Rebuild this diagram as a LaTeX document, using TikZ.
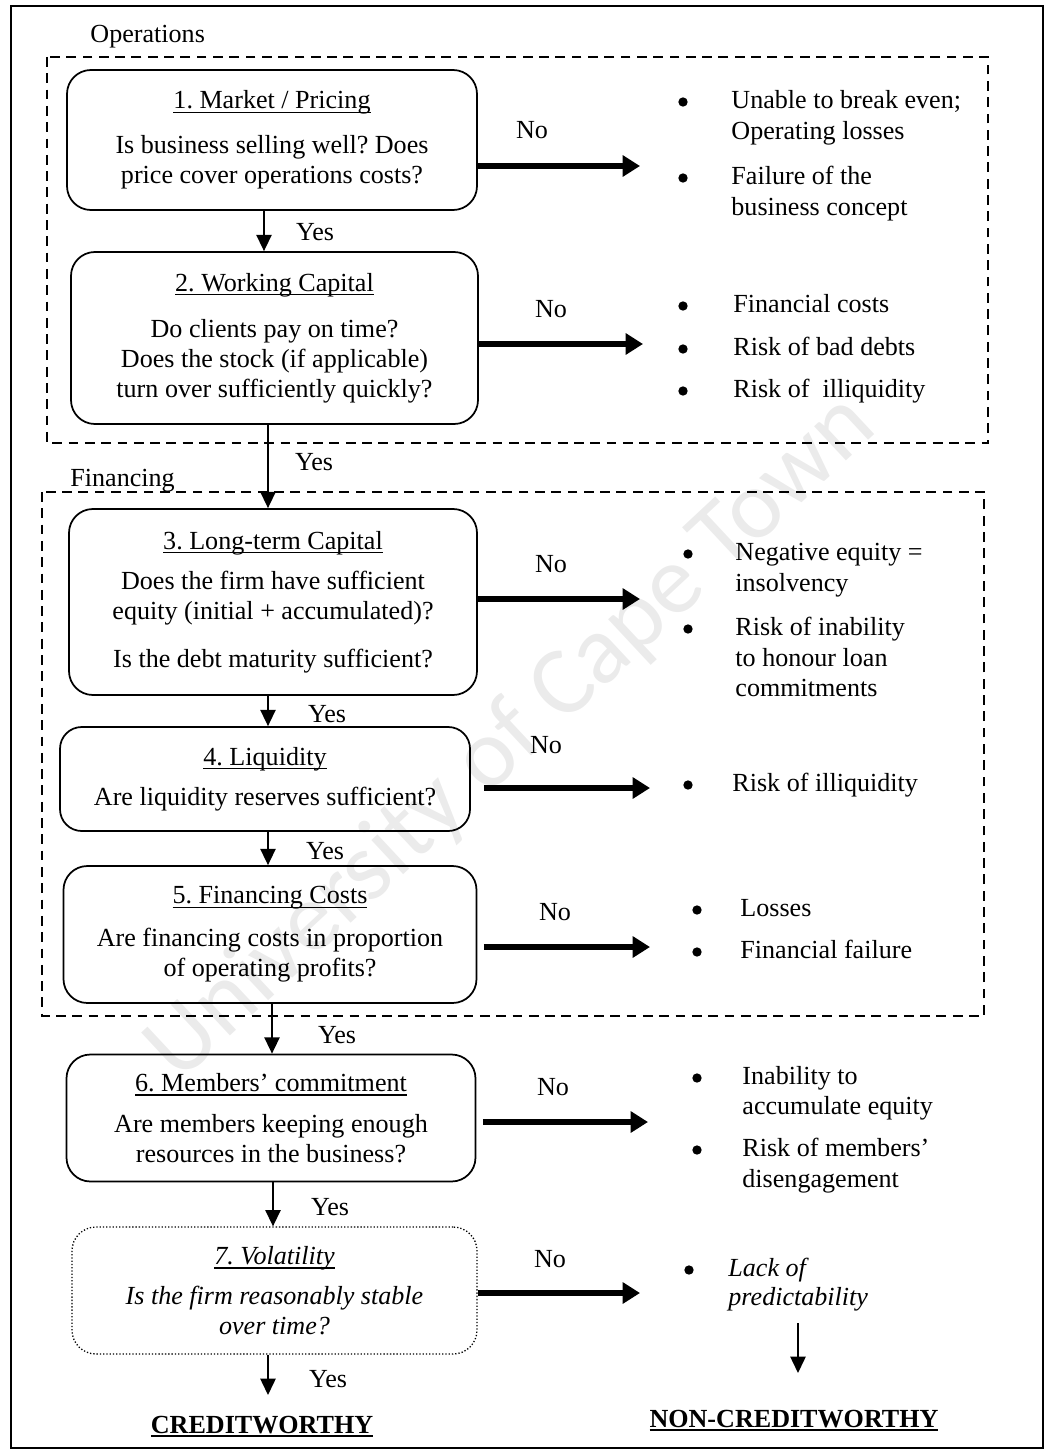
\documentclass[tikz,border=0pt]{standalone}
\usepackage{fontspec}
\setmainfont{Liberation Serif}
\newfontfamily\wmfont{Carlito}
\usetikzlibrary{arrows.meta}
\frenchspacing
\newcommand\myul[2][0.6pt]{\setbox0\hbox{#2}\rlap{\rule[-1.9pt]{\wd0}{#1}}\box0}
\begin{document}
\begin{tikzpicture}[x=0.46pt, y=-0.46pt,
  font=\fontsize{12}{13.8}\selectfont,
  box/.style={draw, line width=0.8pt, rounded corners=11pt, align=center, inner sep=0pt},
  sz/.style 2 args={minimum width=#1*0.46pt, minimum height=#2*0.46pt},
  grp/.style={draw, line width=0.7pt, dash pattern=on 4.5pt off 3pt},
  frame/.style={draw, line width=0.9pt},
  yesarrow/.style={line width=0.8pt, -{Triangle[length=7.5pt,width=7pt]}},
  noarrow/.style={line width=2.4pt, -{Triangle[length=8pt,width=9.5pt]}},
  lbl/.style={inner sep=0pt, text height=9pt, text depth=2.4pt},
  rt/.style={lbl, anchor=west},
  dot/.style={circle, fill, inner sep=0pt, minimum size=4.3pt}]
\useasboundingbox (0,0) rectangle (1047,1454);
% watermark
\node[rotate=43, text=black!8, font=\wmfont\fontsize{45}{50}\selectfont] (wm) at (512,738) {University of Cape Town};
% outer frame and groups
\draw[frame] (11,6) rectangle (1043,1448);
\draw[grp] (47,57) rectangle (988,443);
\draw[grp] (42,492) rectangle (984,1016);
\node[lbl, anchor=west] (ops) at (90,35) {Operations};
\node[lbl, anchor=west] (fin) at (70,479) {Financing};
% decision boxes
\node[box, sz={410}{140}] (b1) at (272,140)
  {\myul{1. Market / Pricing}\\[6.9pt] Is business selling well? Does\\ price cover operations costs?};
\node[box, sz={407}{172}] (b2) at (274.5,338)
  {\myul{2. Working Capital}\\[7.4pt] Do clients pay on time?\\ Does the stock (if applicable)\\ turn over sufficiently quickly?};
\node[box, sz={408}{186}] (b3) at (273,602)
  {\myul{3. Long-term Capital}\\[4.6pt] Does the firm have sufficient\\ equity (initial + accumulated)?\\[8.3pt] Is the debt maturity sufficient?};
\node[box, sz={410}{104}, rounded corners=10pt] (b4) at (265,779)
  {\myul{4. Liquidity}\\[4.6pt] Are liquidity reserves sufficient?};
\node[box, sz={413}{137}] (b5) at (270,934.5)
  {\myul{5. Financing Costs}\\[6pt] Are financing costs in proportion\\ of operating profits?};
\node[box, sz={409}{127}] (b6) at (271,1118)
  {\myul{6. Members’ commitment}\\[5pt] Are members keeping enough\\ resources in the business?};
\node[box, sz={405}{127}, line width=0.6pt, dash pattern=on 0.6pt off 0.9pt, font=\fontsize{12}{13.8}\selectfont\itshape] (b7) at (274.5,1290.5)
  {\myul{7. Volatility}\\[4.6pt] Is the firm reasonably stable\\ over time?};
% end labels
\node[lbl, font=\fontsize{12}{13.8}\selectfont\bfseries] (cw) at (262,1426) {\myul[0.9pt]{CREDITWORTHY}};
\node[lbl, font=\fontsize{12}{13.8}\selectfont\bfseries] (ncw) at (794,1420) {\myul[0.9pt]{NON-CREDITWORTHY}};
% yes arrows
\coordinate (x12) at (264,0);
\coordinate (x23) at (268,0);
\coordinate (x56) at (272,0);
\coordinate (x67) at (273,0);
\coordinate (cwend) at (268,1395);
\draw[yesarrow] (b1.south -| x12) -- (b2.north -| x12);
\draw[yesarrow] (b2.south -| x23) -- (b3.north -| x23);
\draw[yesarrow] (b3.south -| x23) -- (b4.north -| x23);
\draw[yesarrow] (b4.south -| x23) -- (b5.north -| x23);
\draw[yesarrow] (b5.south -| x56) -- (b6.north -| x56);
\draw[yesarrow] (b6.south -| x67) -- (b7.north -| x67);
\draw[yesarrow] (b7.south -| x23) -- (cwend);
\node[lbl] (y1) at (315,233) {Yes};
\node[lbl] (y2) at (314,463) {Yes};
\node[lbl] (y3) at (327,715) {Yes};
\node[lbl] (y4) at (325,852) {Yes};
\node[lbl] (y5) at (337,1036) {Yes};
\node[lbl] (y6) at (330,1208) {Yes};
\node[lbl] (y7) at (328,1380) {Yes};
% no arrows
\coordinate (a1) at (640,166);
\coordinate (a2) at (643,344);
\coordinate (a3) at (640,599);
\coordinate (a4) at (650,788);
\coordinate (a5) at (650,947);
\coordinate (a6) at (648,1122);
\coordinate (a7) at (640,1293);
\draw[noarrow] (b1.east |- a1) -- (a1);
\draw[noarrow] (b2.east |- a2) -- (a2);
\draw[noarrow] (b3.east |- a3) -- (a3);
\draw[noarrow] ([xshift=6pt]b4.east |- a4) -- (a4);
\draw[noarrow] ([xshift=3pt]b5.east |- a5) -- (a5);
\draw[noarrow] ([xshift=3pt]b6.east |- a6) -- (a6);
\draw[noarrow] (b7.east |- a7) -- (a7);
\node[lbl] (n1) at (532,131) {No};
\node[lbl] (n2) at (551,310) {No};
\node[lbl] (n3) at (551,565) {No};
\node[lbl] (n4) at (546,746) {No};
\node[lbl] (n5) at (555,913) {No};
\node[lbl] (n6) at (553,1088) {No};
\node[lbl] (n7) at (550,1260) {No};
% consequences
\node[dot] (d1a) at (683,102) {};
\node[rt] (t1a) at (731,101) {Unable to break even;};
\node[rt] (t1b) at (731,132) {Operating losses};
\node[dot] (d1b) at (683,178) {};
\node[rt] (t1c) at (731,177) {Failure of the};
\node[rt] (t1d) at (731,208) {business concept};
\node[dot] (d2a) at (683,306) {};
\node[rt] (t2a) at (733,305) {Financial costs};
\node[dot] (d2b) at (683,349) {};
\node[rt] (t2b) at (733,348) {Risk of bad debts};
\node[dot] (d2c) at (683,391) {};
\node[rt] (t2c) at (733,390) {Risk of~ illiquidity};
\node[dot] (d3a) at (688,554) {};
\node[rt] (t3a) at (735,553) {Negative equity =};
\node[rt] (t3b) at (735,584) {insolvency};
\node[dot] (d3b) at (688,629) {};
\node[rt] (t3c) at (735,628) {Risk of inability};
\node[rt] (t3d) at (735,659) {to honour loan};
\node[rt] (t3e) at (735,689) {commitments};
\node[dot] (d4a) at (688,785) {};
\node[rt] (t4a) at (732,784) {Risk of illiquidity};
\node[dot] (d5a) at (697,910) {};
\node[rt] (t5a) at (740,909) {Losses};
\node[dot] (d5b) at (697,952) {};
\node[rt] (t5b) at (740,951) {Financial failure};
\node[dot] (d6a) at (697,1078) {};
\node[rt] (t6a) at (742,1077) {Inability to};
\node[rt] (t6b) at (742,1107) {accumulate equity};
\node[dot] (d6b) at (697,1150) {};
\node[rt] (t6c) at (742,1149) {Risk of members’};
\node[rt] (t6d) at (742,1180) {disengagement};
\node[dot] (d7a) at (689,1270) {};
\node[rt, font=\fontsize{12}{13.8}\selectfont\itshape] (t7a) at (728,1269) {Lack of};
\node[rt, font=\fontsize{12}{13.8}\selectfont\itshape] (t7b) at (728,1298) {predictability};
\coordinate (ncs) at (798,1323);
\coordinate (nce) at (798,1373);
\draw[yesarrow] (ncs) -- (nce);
\end{tikzpicture}
\end{document}
